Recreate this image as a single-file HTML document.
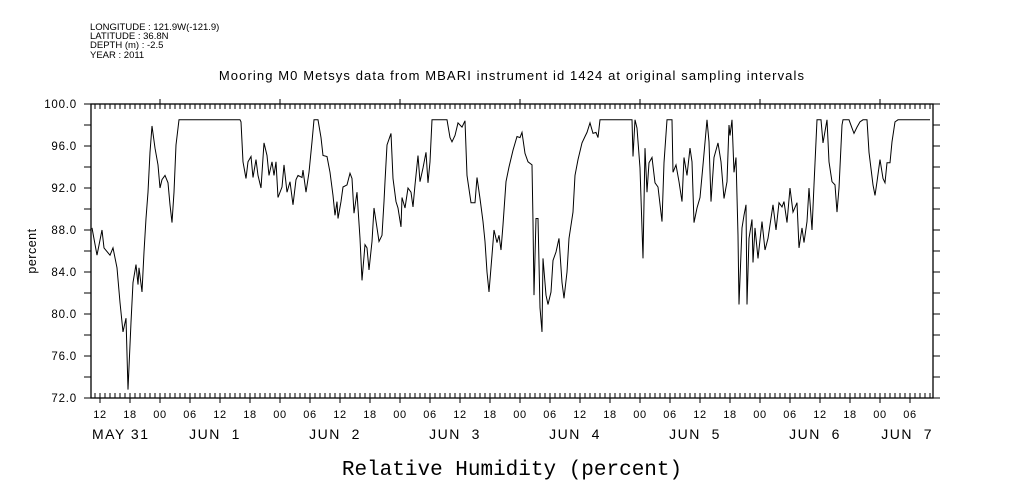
<!DOCTYPE html>
<html><head><meta charset="utf-8"><style>
body{margin:0;background:#fff;}
svg{display:block;font-family:"Liberation Sans",sans-serif;}
</style></head><body>
<svg id="chart" width="1009" height="504" viewBox="0 0 1009 504">
<g font-size="9.5" fill="#000">
<text x="90" y="30">LONGITUDE : 121.9W(-121.9)</text>
<text x="90" y="39">LATITUDE : 36.8N</text>
<text x="90" y="48">DEPTH (m) : -2.5</text>
<text x="90" y="58">YEAR : 2011</text>
</g>
<text x="512" y="80" text-anchor="middle" font-size="13" letter-spacing="1.1">Mooring M0 Metsys data from MBARI instrument id 1424 at original sampling intervals</text>
<text transform="translate(36,251) rotate(-90)" text-anchor="middle" font-size="12.5" letter-spacing="0.5">percent</text>
<text x="512" y="475" text-anchor="middle" font-size="21" font-family="Liberation Mono, monospace">Relative Humidity (percent)</text>
<g id="axes"></g>
<path id="line" fill="none" stroke="#000" stroke-width="1"></path>
</svg>
<script>
const hours=[10.4,11.4,12.4,12.8,14.0,14.6,15.4,16.0,16.6,17.2,17.6,18.2,18.6,19.2,19.6,19.8,20.4,20.8,21.2,21.6,22.0,22.4,23.0,23.6,24.0,24.4,25.0,25.6,26.0,26.4,26.8,27.2,27.8,40.0,40.2,40.6,41.2,41.6,42.2,42.6,43.2,43.6,44.2,44.8,45.4,45.8,46.4,46.8,47.2,47.6,48.4,48.8,49.4,50.0,50.6,51.2,51.6,52.4,52.6,53.2,53.8,54.4,54.8,55.6,56.2,56.6,57.4,58.0,58.6,59.0,59.4,59.6,60.2,60.6,61.4,62.0,62.4,62.8,63.4,63.6,64.0,64.4,65.0,65.4,65.8,66.4,66.8,67.4,67.8,68.4,68.8,69.0,69.4,70.2,70.6,71.2,71.6,72.2,72.4,73.0,73.6,74.2,74.6,75.0,75.6,76.0,76.6,77.2,77.6,78.0,78.4,81.4,82.0,82.4,83.0,83.6,84.4,85.0,85.4,86.2,87.0,87.4,88.0,88.6,89.0,89.4,89.8,90.4,90.8,91.4,91.8,92.2,92.6,93.2,93.8,94.6,95.4,96.0,96.4,97.0,97.6,98.4,98.6,98.8,99.2,99.6,100.0,100.4,100.6,101.2,101.6,102.2,102.6,103.2,103.8,104.4,104.8,105.4,105.8,106.6,107.0,107.6,108.4,109.0,109.4,110.0,110.6,111.2,111.6,112.0,118.4,118.6,119.0,119.4,120.0,120.6,121.0,121.4,121.8,122.4,123.0,123.6,124.4,124.8,125.4,126.4,126.6,127.2,127.8,128.4,128.8,129.4,130.0,130.4,130.8,131.4,132.0,132.6,133.4,133.8,134.2,134.8,135.6,136.2,136.8,137.4,137.8,138.0,138.4,138.8,139.2,139.6,139.8,140.4,140.8,141.2,141.4,141.8,142.4,142.6,143.0,143.6,144.4,145.0,145.6,146.6,147.2,147.8,148.4,148.8,149.4,150.0,150.6,151.4,151.8,152.4,152.8,153.4,153.8,154.4,154.8,155.4,156.2,156.6,157.4,157.8,158.4,159.0,159.4,159.8,160.4,160.6,161.8,162.4,162.8,163.4,164.0,164.6,165.4,165.8,166.6,167.0,167.4,168.0,168.6,169.0,169.4,170.0,170.4,171.0,171.6,178.0];
const humidity=[88.2,85.6,88.0,86.3,85.6,86.3,84.4,81.1,78.3,79.6,72.8,79.2,83.0,84.7,82.8,84.4,82.1,85.9,89.1,91.6,95.4,97.9,95.8,94.2,92.0,92.8,93.2,92.5,90.4,88.7,91.6,96.1,98.5,98.5,98.3,94.5,92.9,94.5,95.0,93.0,94.7,93.2,92.0,96.3,95.1,93.2,94.5,93.2,94.5,91.1,92.1,94.2,91.6,92.6,90.4,92.8,93.2,93.0,93.7,91.6,93.5,96.4,98.5,98.5,96.8,95.1,95.0,93.5,91.3,89.4,90.7,89.1,90.7,92.1,92.3,93.4,92.9,89.6,91.6,90.1,87.2,83.2,86.6,86.3,84.2,86.9,90.1,88.2,86.9,87.5,90.7,92.6,96.1,97.2,92.9,90.7,90.1,88.3,91.1,90.1,92.0,91.6,90.2,92.3,95.1,92.6,93.9,95.4,92.5,94.5,98.5,98.5,96.8,96.4,97.0,98.2,97.8,98.4,93.2,90.6,90.6,93.0,91.0,88.8,86.9,84.0,82.1,85.6,88.0,86.8,87.5,86.1,88.5,92.6,94.0,95.6,96.9,96.8,97.3,95.3,94.5,94.2,88.8,81.8,89.1,89.1,80.6,78.3,85.3,81.8,80.9,82.1,85.1,85.9,87.2,83.0,81.5,84.0,87.2,89.7,93.2,94.7,96.3,96.9,97.3,98.2,97.2,97.3,96.8,98.5,98.5,95.0,98.5,97.7,93.9,85.3,95.8,91.6,94.4,94.9,92.5,92.1,88.8,94.4,98.5,98.5,93.5,94.2,92.6,90.7,94.9,93.2,95.8,94.5,88.7,90.1,91.1,94.2,98.5,96.4,90.7,94.9,96.3,94.5,91.0,92.6,98.0,97.0,98.5,93.5,94.9,87.5,80.9,88.2,89.4,90.4,80.9,87.2,89.0,84.9,88.2,85.3,88.8,86.1,87.2,90.4,88.0,90.6,90.2,90.7,88.7,92.0,89.7,90.6,86.3,88.2,86.8,88.8,92.0,88.0,92.3,98.5,98.5,96.3,98.5,94.5,92.6,92.3,89.7,92.0,98.0,98.5,98.5,97.7,97.2,97.8,98.3,98.5,98.5,95.4,92.3,91.3,92.6,94.7,92.9,92.5,94.4,94.4,96.4,98.3,98.5,98.5];
const yTicks=[72,76,80,84,88,92,96,100];
const yTickLabels=["72.0","76.0","80.0","84.0","88.0","92.0","96.0","100.0"];
const hourLabels=["12","18","00","06"];
const dayLabels=["MAY 31","JUN  1","JUN  2","JUN  3","JUN  4","JUN  5","JUN  6","JUN  7"];
const H0=10.2,H1=178.6,L=91,R=933,T=104,B=398;
const x=h=>L+(h-H0)*(R-L)/(H1-H0);
const y=v=>B-(v-72)*(B-T)/28;
const NS="http://www.w3.org/2000/svg";
const ax=document.getElementById('axes');
function mk(tag,attrs,parent){const e=document.createElementNS(NS,tag);for(const k in attrs)e.setAttribute(k,attrs[k]);(parent||ax).appendChild(e);return e;}
let frame=mk('rect',{x:L,y:T,width:R-L,height:B-T,fill:'none',stroke:'#000','stroke-width':1.3});


let d='';
for(let h=11;h<=H1;h++){
 const px=x(h).toFixed(1);
 const major=(h%6===0), day=(h%24===0);
 d+=`M${px},${T}v5M${px},${B}v-5`;
 if(day)d+=`M${px},${T}v-5`;
 if(major)d+=`M${px},${B}v5`;
}
for(let v=72;v<=100;v+=2){
 const py=y(v).toFixed(1);
 d+=`M${L-7},${py}h7M${R},${py}h7`;
}
let tk=mk('path',{d:d,stroke:'#000','stroke-width':1,fill:'none'});


yTicks.forEach((v,i)=>{
 const t=mk('text',{x:L-14,y:y(v)+4,'text-anchor':'end','font-size':11.5,'letter-spacing':0.8});
 t.textContent=yTickLabels[i];
 
 
});
for(let h=12;h<=H1;h+=6){
 const t=mk('text',{x:x(h),y:418,'text-anchor':'middle','font-size':11,'letter-spacing':0.6});
 t.textContent=hourLabels[((h-12)/6)%4];
 
 
}
dayLabels.forEach((s,i)=>{
 let cx=x(i*24+12)-5, anchor='middle';
 if(i===0){cx=92;anchor='start';}
 if(i===dayLabels.length-1){cx=933;anchor='end';}
 const t=mk('text',{x:cx,y:439,'text-anchor':anchor,'font-size':14,'letter-spacing':1.5});
 t.style.whiteSpace='pre';
 t.textContent=s;
 
 
});
let p='';
hours.forEach((h,i)=>{p+=(i?'L':'M')+x(h).toFixed(1)+','+y(humidity[i]).toFixed(1);});
document.getElementById('line').setAttribute('d',p);
</script>
</body></html>
